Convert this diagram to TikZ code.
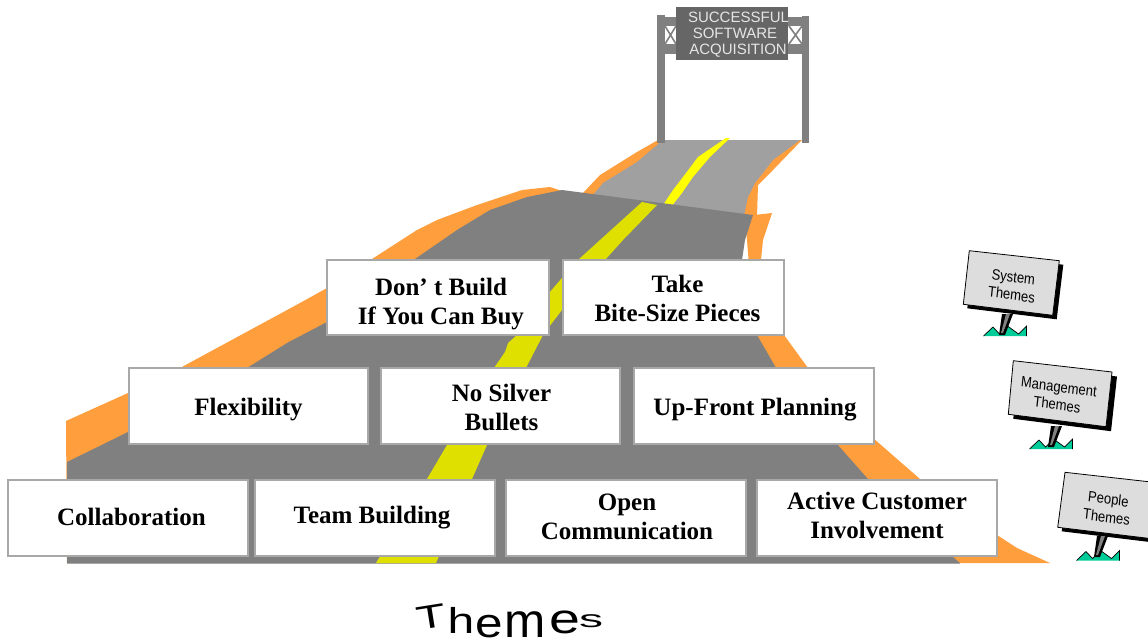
\documentclass[tikz,border=0pt]{standalone}
\usepackage{fontspec}
\setmainfont{Liberation Serif}
\newfontfamily\signfont{Liberation Sans}
\definecolor{roadorange}{HTML}{FF9E3D}
\definecolor{roadgrey}{HTML}{808080}
\definecolor{farroad}{HTML}{A0A0A0}
\definecolor{nearline}{HTML}{E0E000}
\definecolor{farline}{HTML}{FFFF00}
\definecolor{grass}{HTML}{00CC99}
\definecolor{signface}{HTML}{DDDDDD}
\definecolor{boxedge}{HTML}{A8A8A8}
\tikzset{
  themebox/.style={draw=boxedge,line width=1.3pt,fill=white,inner sep=0pt},
  themetext/.style={inner sep=0pt,align=center,font=\fontsize{25}{29}\selectfont\bfseries,text=black},
  goal/.style={font=\signfont\fontsize{15}{17}\selectfont,text=white!90!black,inner sep=0pt},
  gantry/.style={fill=roadgrey,draw=none},
  yard/.style={font=\signfont\fontsize{15}{18}\selectfont,text=black,inner sep=0pt,align=center,xscale=.87,rotate=-7},
}
\newcommand{\yardsign}[7]{% TL TR BR BL shadow-offset grass-origin post-top
  \fill[black,shift={(#5)}] (#1) -- (#2) -- (#3) -- (#4) -- cycle;
  \fill[grass,shift={(#6)}] (0,10) -- (9.5,1) -- (16,8) -- (24,0) -- (35,8) -- (43,0) -- (43,10) -- cycle;
  \draw[black,line width=.7pt,line join=miter,shift={(#6)}] (0,10) -- (9.5,1) -- (16,8) -- (24,0) -- (35,8) -- (43,0) -- (43,10);
  \fill[black,shift={(#7)}] (0,0) -- (11,0) -- (3,21) -- (-3,21) -- cycle;
  \fill[roadgrey,shift={(#7)}] (4,0) -- (8,0) -- (1,19) -- (-1,19) -- cycle;
  \draw[black,line width=.8pt,fill=signface] (#1) -- (#2) -- (#3) -- (#4) -- cycle;
}
\begin{document}
\begin{tikzpicture}[x=1pt,y=-1pt]
\useasboundingbox (0,0) rectangle (1148,642);
\clip (0,0) rectangle (1148,642);
% far road
\fill[roadorange] (583,193) -- (600,175) -- (637,152) -- (658,140) -- (802,140) -- (773,170) -- (758,185) -- (757,216) -- (640,215) -- cycle;
\fill[farroad] (663,140) -- (800,140) -- (773,160) -- (755,183) -- (748,197) -- (744,216) -- (640,204) -- (560,191) -- (593,195) -- (603,183) -- (637,162) -- cycle;
\fill[farline] (726,138) -- (730,138) -- (710,157) -- (693,177) -- (682,193) -- (671,207) -- (663,205) -- (673,190) -- (683,177) -- (698,157) -- cycle;
% near road
\fill[roadorange] (66,421) -- (128,393) -- (180,368) -- (300,303) -- (327,288) -- (372,259) -- (417,230) -- (437,220) -- (477,205) -- (522,190) -- (550,187) -- (562,191) -- (457,240) -- (247,380) -- (67,563) -- cycle;
\fill[roadorange] (745,216) -- (772,213) -- (763,240) -- (761,260) -- (768,300) -- (784,335) -- (808,368) -- (873,438) -- (920,479) -- (960,520) -- (997,535) -- (1017,548) -- (1050,563) -- (900,563) -- (760,400) -- cycle;
\fill[roadgrey] (562,190) -- (753,215) -- (745,240) -- (742,260) -- (748,300) -- (757,335) -- (776,368) -- (837,444) -- (868,479) -- (953,557) -- (960,563) -- (67,563) -- (67,462) -- (128,432) -- (247,368) -- (287,343) -- (327,322) -- (415,259) -- (457,230) -- (490,210) -- (527,197) -- cycle;
\draw[boxedge,line width=.8pt] (67,563.5) -- (960,563.5);
\fill[nearline] (642,202) -- (657,205) -- (623,240) -- (605,260) -- (562,310) -- (549,327) -- (543,335) -- (526,368) -- (487,445) -- (472,479) -- (436,563) -- (376,563) -- (427,479) -- (447,445) -- (494,368) -- (505,352) -- (508,343) -- (517,335) -- (549,293) -- (562,278) -- (578,260) -- (600,240) -- cycle;
% gantry
\fill[gantry] (657,17) rectangle (809,26);
\fill[gantry] (657,44) rectangle (809,54);
\fill[white] (665,26) rectangle (676,44);
\fill[white] (788,26) rectangle (802,44);
\draw[roadgrey,line width=1.6pt] (665,26) -- (676,44) (676,26) -- (665,44);
\draw[roadgrey,line width=1.6pt] (789,26) -- (802,44) (802,26) -- (789,44);
\fill[gantry] (657,15) rectangle (665,143);
\fill[gantry] (802,16) rectangle (809,143);
\fill[black!60] (676,7) rectangle (788,60);
\node[goal] (goalA) at (738.5,17) {SUCCESSFUL};
\node[goal] (goalB) at (735,33) {SOFTWARE};
\node[goal] (goalC) at (738,51) {ACQUISITION};
% theme boxes
\node[themebox,minimum width=222pt,minimum height=75pt] (buy) at (438,297.5) {};
\node[themebox,minimum width=221pt,minimum height=75pt] (bite) at (673.5,297.5) {};
\node[themebox,minimum width=239pt,minimum height=76pt] (flex) at (248.5,406) {};
\node[themebox,minimum width=239pt,minimum height=76pt] (silver) at (500.5,406) {};
\node[themebox,minimum width=240pt,minimum height=76pt] (plan) at (754,406) {};
\node[themebox,minimum width=240pt,minimum height=76pt] (collab) at (128,518) {};
\node[themebox,minimum width=240pt,minimum height=76pt] (team) at (375,518) {};
\node[themebox,minimum width=240pt,minimum height=76pt] (open) at (626,518) {};
\node[themebox,minimum width=240pt,minimum height=76pt] (active) at (877,518) {};
\node[themetext] (buyT) at ([shift={(3,6.5)}]buy.center) {Don’ t Build\\If You Can Buy};
\node[themetext] (biteT) at ([shift={(4,1)}]bite.center) {Take\\Bite-Size Pieces};
\node[themetext] (flexT) at ([shift={(0,4)}]flex.center) {Flexibility};
\node[themetext] (silverT) at ([shift={(1,1)}]silver.center) {No Silver\\Bullets};
\node[themetext] (planT) at ([shift={(1,4)}]plan.center) {Up-Front Planning};
\node[themetext] (collabT) at ([shift={(3.5,-1)}]collab.center) {Collaboration};
\node[themetext] (teamT) at ([shift={(-3,0)}]team.center) {Team Building};
\node[themetext] (openT) at ([shift={(1,-1.5)}]open.center) {Open\\Communication};
\node[themetext] (activeT) at ([shift={(0,-2.5)}]active.center) {Active Customer\\Involvement};
% yard signs
\yardsign{969.3,250.7}{1059.3,260.7}{1052.7,315.3}{963.3,304.3}{4,4}{983.5,326}{1002,314}
\yardsign{1013.3,360.7}{1112,372}{1106,426.7}{1008.3,414.3}{5,4.5}{1029.5,439}{1051,426}
\yardsign{1065,472.3}{1160,483}{1154,539}{1057.7,527.3}{4,4}{1076.5,550.5}{1097,536}
\node[yard] (sys) at (1012.5,286) {System\\Themes};
\node[yard] (mgmt) at (1058,396) {Management\\Themes};
\node[yard] (people) at (1107.5,508) {People\\Themes};
% wavy title
\node[anchor=base west,inner sep=0pt,font=\signfont\fontsize{30}{30}\selectfont,text=black] (title) at (415,630)
 {\raisebox{0pt}{\rotatebox{9}{\scalebox{1.6}[1.1]{T}}}\raisebox{-3pt}{\scalebox{1.6}[1.2]{h}}\kern1pt\raisebox{-7pt}{\scalebox{1.65}[1.38]{e}}\kern2pt\raisebox{-7pt}{\scalebox{1.65}[1.6]{m}}\kern3pt\raisebox{-3pt}{\scalebox{1.85}[1.4]{e}}\kern-1pt\raisebox{3pt}{\scalebox{1.6}[.8]{s}}};
\end{tikzpicture}
\end{document}
